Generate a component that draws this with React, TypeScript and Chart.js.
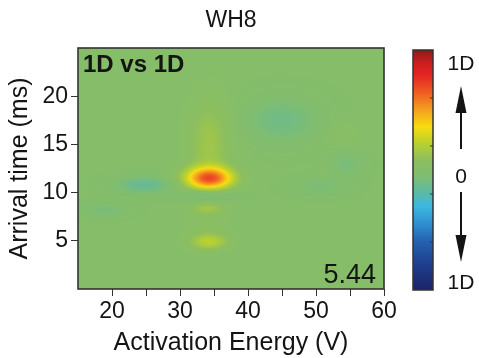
import React, { useEffect, useRef } from "react";
import { Chart, registerables } from "chart.js";

Chart.register(...registerables);

const chartTitle = "WH8";
const xAxisTitle = "Activation Energy (V)";
const yAxisTitle = "Arrival time (ms)";
const xRange = [15, 60];
const yRange = [0, 25];
const xTicks = [20, 25, 30, 35, 40, 45, 50, 55, 60];
const xLabelled = [20, 30, 40, 50, 60];
const yTicks = [5, 10, 15, 20];
const panelLabel = "1D vs 1D";
const scoreLabel = "5.44";
const colorbarLabels = ["1D", "0", "1D"];

// Features of the difference map (centre, amplitude, spread)
const blobX = [34.3, 34.3, 34.0, 34.0, 34.3, 34.0, 24.7, 19.0, 45.0, 50.5, 54.5, 54.0];
const blobY = [11.5, 15.0, 9.7, 8.4, 4.9, 6.5, 10.8, 8.2, 17.5, 10.6, 13.0, 16.0];
const blobAmp = [0.62, 0.14, -0.15, 0.09, 0.19, 0.05, -0.15, -0.08, -0.11, -0.07, -0.08, 0.05];
const blobSx = [2.4, 2.3, 2.6, 1.9, 2.0, 2.2, 2.8, 2.2, 3.8, 2.6, 1.6, 1.6];
const blobSy = [0.78, 3.6, 0.5, 0.4, 0.55, 2.0, 0.6, 0.5, 1.6, 0.6, 1.0, 1.0];

// Colour scale (value -1 .. 1)
const cmapStops = [-1.0, -0.8, -0.6, -0.45, -0.3, -0.18, -0.05, 0.08, 0.22, 0.36, 0.5, 0.65, 0.8, 0.9, 1.0];
const cmapColors = [
  "#1b2566", "#1e3c8a", "#2460b0", "#2f8ed0", "#3cb8e0", "#5fb9a0", "#80bd70",
  "#8cbe5f", "#b8d030", "#f8dc10", "#f5a020", "#ef5a23", "#e42222", "#c81e1e", "#8b1a1a",
];

const FONT = "'Liberation Sans', Arial, sans-serif";
const TEXT = "#141414";
const FRAME = "#333333";

function hexToRgb(h: string) {
  const n = parseInt(h.slice(1), 16);
  return [(n >> 16) & 255, (n >> 8) & 255, n & 255];
}
const cmapRgb = cmapColors.map(hexToRgb);

function colorFor(v: number) {
  if (v <= cmapStops[0]) return cmapRgb[0];
  for (let i = 1; i < cmapStops.length; i++) {
    if (v <= cmapStops[i]) {
      const t = (v - cmapStops[i - 1]) / (cmapStops[i] - cmapStops[i - 1]);
      const a = cmapRgb[i - 1];
      const b = cmapRgb[i];
      return [a[0] + (b[0] - a[0]) * t, a[1] + (b[1] - a[1]) * t, a[2] + (b[2] - a[2]) * t];
    }
  }
  return cmapRgb[cmapRgb.length - 1];
}

function fieldAt(x: number, y: number) {
  let v = 0;
  for (let i = 0; i < blobX.length; i++) {
    const dx = (x - blobX[i]) / blobSx[i];
    const dy = (y - blobY[i]) / blobSy[i];
    v += blobAmp[i] * Math.exp(-0.5 * (dx * dx + dy * dy));
  }
  return Math.max(-1, Math.min(1, v));
}

const heatmapPlugin = {
  id: "heatmap",
  beforeDatasetsDraw(chart: any) {
    const { ctx, chartArea, scales } = chart;
    const { left, top, right, bottom } = chartArea;
    const w = Math.round(right - left);
    const h = Math.round(bottom - top);
    const off = document.createElement("canvas");
    off.width = w;
    off.height = h;
    const octx = off.getContext("2d")!;
    const img = octx.createImageData(w, h);
    for (let py = 0; py < h; py++) {
      const yv = scales.y.getValueForPixel(top + py + 0.5);
      for (let px = 0; px < w; px++) {
        const xv = scales.x.getValueForPixel(left + px + 0.5);
        const c = colorFor(fieldAt(xv, yv));
        const k = (py * w + px) * 4;
        img.data[k] = c[0];
        img.data[k + 1] = c[1];
        img.data[k + 2] = c[2];
        img.data[k + 3] = 255;
      }
    }
    octx.putImageData(img, 0, 0);
    ctx.save();
    ctx.drawImage(off, left, top, right - left, bottom - top);
    ctx.restore();
  },
  afterDatasetsDraw(chart: any) {
    const { ctx, chartArea } = chart;
    const { left, top, right, bottom } = chartArea;
    ctx.save();
    ctx.strokeStyle = FRAME;
    ctx.lineWidth = 1.6;
    ctx.strokeRect(left, top, right - left, bottom - top);

    ctx.fillStyle = TEXT;
    ctx.textBaseline = "alphabetic";
    ctx.font = `bold 24px ${FONT}`;
    ctx.textAlign = "left";
    ctx.fillText(panelLabel, left + 5, top + 24);
    ctx.font = `27px ${FONT}`;
    ctx.textAlign = "right";
    ctx.fillText(scoreLabel, right - 8, bottom - 6);

    ctx.font = `23px ${FONT}`;
    ctx.textAlign = "center";
    ctx.fillText(chartTitle, (left + right) / 2, 27);

    // colour bar
    const bx = 413, bw = 20, by = top + 2, bh = bottom - top - 1;
    for (let i = 0; i < bh; i++) {
      const v = 1 - (2 * (i + 0.5)) / bh;
      const c = colorFor(v);
      ctx.fillStyle = `rgb(${c[0]},${c[1]},${c[2]})`;
      ctx.fillRect(bx, by + i, bw, 1);
    }
    ctx.strokeStyle = FRAME;
    ctx.lineWidth = 1.5;
    ctx.strokeRect(bx, by, bw, bh);
    ctx.lineWidth = 1;
    for (let j = 1; j < 5; j++) {
      const ty = by + (bh * j) / 5;
      ctx.beginPath();
      ctx.moveTo(bx + bw - 3, ty);
      ctx.lineTo(bx + bw, ty);
      ctx.stroke();
    }

    const lx = 461;
    ctx.fillStyle = TEXT;
    ctx.font = `21px ${FONT}`;
    ctx.textAlign = "center";
    ctx.fillText(colorbarLabels[0], lx, by + 20);
    ctx.fillText(colorbarLabels[1], lx, by + 133);
    ctx.fillText(colorbarLabels[2], lx, by + bh - 1);

    // arrows
    ctx.strokeStyle = TEXT;
    ctx.lineWidth = 2;
    ctx.beginPath();
    ctx.moveTo(lx, by + 99);
    ctx.lineTo(lx, by + 55);
    ctx.moveTo(lx, by + 142);
    ctx.lineTo(lx, by + 190);
    ctx.stroke();
    ctx.beginPath();
    ctx.moveTo(lx, by + 36);
    ctx.lineTo(lx - 5.5, by + 63);
    ctx.lineTo(lx + 5.5, by + 63);
    ctx.closePath();
    ctx.fill();
    ctx.beginPath();
    ctx.moveTo(lx, by + 212);
    ctx.lineTo(lx - 5.5, by + 185);
    ctx.lineTo(lx + 5.5, by + 185);
    ctx.closePath();
    ctx.fill();
    ctx.restore();
  },
};

export default function App() {
  const ref = useRef<HTMLCanvasElement | null>(null);
  useEffect(() => {
    if (!ref.current) return;
    const chart = new Chart(ref.current, {
      type: "scatter",
      data: {
        datasets: [
          {
            data: blobX.map((x, i) => ({ x, y: blobY[i] })),
            pointRadius: 0,
            showLine: false,
          },
        ],
      },
      options: {
        animation: false,
        responsive: false,
        devicePixelRatio: 1,
        layout: { padding: { top: 48, right: 95, left: 0, bottom: 0 } },
        plugins: { legend: { display: false }, tooltip: { enabled: false }, title: { display: false } },
        scales: {
          x: {
            type: "linear",
            min: xRange[0],
            max: xRange[1],
            afterBuildTicks: (s: any) => {
              s.ticks = xTicks.map((v) => ({ value: v }));
            },
            afterFit: (s: any) => {
              s.height = 69;
            },
            ticks: {
              autoSkip: false,
              maxRotation: 0,
              padding: 2,
              color: TEXT,
              font: { family: FONT, size: 23 },
              callback: (v: any) => (xLabelled.includes(Number(v)) ? String(v) : ""),
            },
            grid: { drawOnChartArea: false, drawTicks: true, tickLength: 7, color: FRAME, lineWidth: 1 },
            border: { display: false },
            title: {
              display: true,
              text: xAxisTitle,
              color: TEXT,
              font: { family: FONT, size: 25 },
              padding: { top: 2, bottom: 0 },
            },
          },
          y: {
            type: "linear",
            min: yRange[0],
            max: yRange[1],
            afterBuildTicks: (s: any) => {
              s.ticks = yTicks.map((v) => ({ value: v }));
            },
            afterFit: (s: any) => {
              s.width = 78;
            },
            ticks: {
              autoSkip: false,
              padding: 3,
              color: TEXT,
              font: { family: FONT, size: 23 },
            },
            grid: { drawOnChartArea: false, drawTicks: true, tickLength: 7, color: FRAME, lineWidth: 1 },
            border: { display: false },
            title: {
              display: true,
              text: yAxisTitle,
              color: TEXT,
              font: { family: FONT, size: 25 },
              padding: { top: 5, bottom: 0 },
            },
          },
        },
      },
      plugins: [heatmapPlugin],
    } as any);
    return () => chart.destroy();
  }, []);
  return (
    <div style={{ position: "absolute", left: 0, top: 0, width: 479, height: 358, background: "#fff" }}>
      <canvas ref={ref} width={479} height={358} style={{ display: "block" }} />
    </div>
  );
}
